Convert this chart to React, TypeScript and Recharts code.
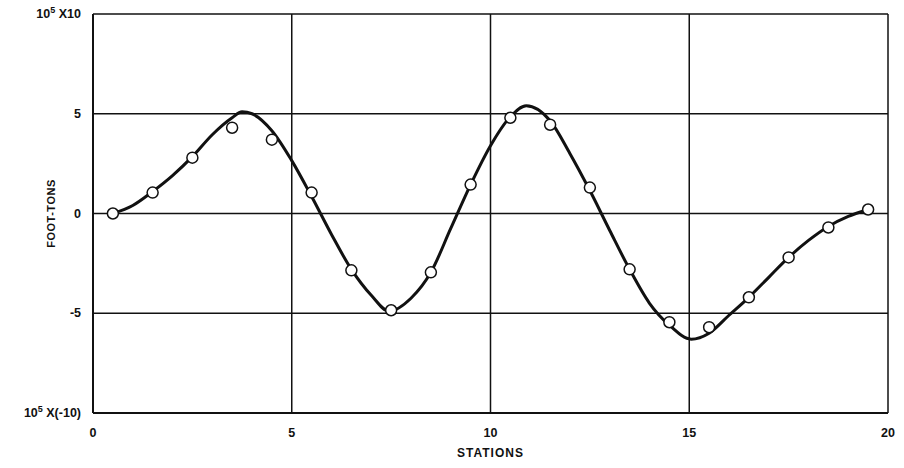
import { LineChart, Line, XAxis, YAxis, CartesianGrid, Label } from "recharts";

// measured stations (open circles)
const stations = [0.5, 1.5, 2.5, 3.5, 4.5, 5.5, 6.5, 7.5, 8.5, 9.5, 10.5, 11.5, 12.5, 13.5, 14.5, 15.5, 16.5, 17.5, 18.5, 19.5];
const measured = [0, 1.05, 2.8, 4.3, 3.7, 1.05, -2.85, -4.85, -2.95, 1.45, 4.8, 4.45, 1.3, -2.8, -5.45, -5.7, -4.2, -2.2, -0.7, 0.2];

// smooth curve
const curveX = [0.5, 1, 1.5, 2, 2.5, 3, 3.5, 3.75, 4, 4.5, 5, 5.5, 6, 6.5, 7, 7.45, 8, 8.5, 9, 9.5, 10, 10.5, 10.9, 11.5, 12, 12.5, 13, 13.5, 14, 14.5, 15.05, 15.5, 16, 16.5, 17, 17.5, 18, 18.5, 19, 19.5];
const curveY = [0, 0.4, 1.1, 1.9, 2.85, 3.95, 4.8, 5.1, 5.0, 4.15, 2.65, 0.85, -1.05, -2.8, -4.1, -4.9, -4.25, -2.95, -0.75, 1.45, 3.4, 4.85, 5.4, 4.65, 3.0, 1.15, -0.85, -2.8, -4.5, -5.6, -6.3, -6.0, -5.1, -4.2, -3.2, -2.2, -1.35, -0.65, -0.15, 0.2];

const xTicks = [0, 5, 10, 15, 20];
const yTicks = [-10, -5, 0, 5, 10];

const pointData = stations.map((s, i) => ({ x: s, y: measured[i] }));
const curveData = curveX.map((s, i) => ({ x: s, y: curveY[i] }));

const FONT = "'Liberation Sans', Arial, sans-serif";
const INK = "#111";

/* eslint-disable @typescript-eslint/no-explicit-any */
function YTick(props: any) {
  const { x, y, payload } = props;
  const v = payload.value as number;
  const common = { fontFamily: FONT, fontWeight: 700, fill: INK, fontSize: 12.5 };
  if (v === 10 || v === -10) {
    const tail = v === 10 ? " X10" : " X(-10)";
    return (
      <text x={x} y={y} dy={4} textAnchor="end" {...common}>
        <tspan>10</tspan>
        <tspan dy={-5} fontSize={9}>5</tspan>
        <tspan dy={5}>{tail}</tspan>
      </text>
    );
  }
  return (
    <text x={x} y={y} dy={4} textAnchor="end" {...common}>
      {v}
    </text>
  );
}
/* eslint-enable @typescript-eslint/no-explicit-any */

export default function App() {
  return (
    <div style={{ position: "absolute", left: 0, top: 0, background: "#fff" }}>
      <LineChart width={904} height={468} margin={{ top: 14, right: 16, left: 0, bottom: 0 }}>
        <CartesianGrid stroke={INK} strokeWidth={1.5} horizontalValues={yTicks} verticalValues={xTicks} />
        <XAxis
          type="number"
          dataKey="x"
          domain={[0, 20]}
          ticks={xTicks}
          allowDataOverflow
          height={55}
          tickLine={false}
          tickSize={0}
          tickMargin={15}
          axisLine={{ stroke: INK, strokeWidth: 2 }}
          tick={{ fontFamily: FONT, fontWeight: 700, fill: INK, fontSize: 12.5 }}
        >
          <Label
            value="STATIONS"
            position="insideBottom"
            offset={11}
            style={{ fontFamily: FONT, fontWeight: 700, fill: INK, fontSize: 12, letterSpacing: 1 }}
          />
        </XAxis>
        <YAxis
          type="number"
          dataKey="y"
          domain={[-10, 10]}
          ticks={yTicks}
          allowDataOverflow
          width={93}
          tickLine={false}
          tickSize={0}
          tickMargin={12}
          axisLine={{ stroke: INK, strokeWidth: 2 }}
          tick={<YTick />}
        >
          <Label
            value="FOOT-TONS"
            angle={-90}
            position="center"
            dx={5}
            style={{ fontFamily: FONT, fontWeight: 700, fill: INK, fontSize: 11, letterSpacing: 0.5 }}
          />
        </YAxis>
        <Line
          data={curveData}
          dataKey="y"
          type="monotone"
          stroke={INK}
          strokeWidth={3}
          dot={false}
          activeDot={false}
          isAnimationActive={false}
        />
        <Line
          data={pointData}
          dataKey="y"
          stroke="none"
          dot={{ r: 5.5, fill: "#fff", stroke: INK, strokeWidth: 1.5 }}
          activeDot={false}
          isAnimationActive={false}
        />
      </LineChart>
    </div>
  );
}
